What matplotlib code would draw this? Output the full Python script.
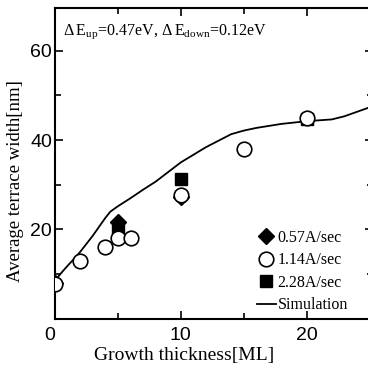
import numpy as np
import matplotlib
matplotlib.use('Agg')
import matplotlib.pyplot as plt

# data
x_057 = [0, 5, 10]
y_057 = [8.0, 21.6, 27.3]

x_114 = [0, 2, 4, 5, 6, 10, 15, 20]
y_114 = [7.9, 13.0, 16.1, 18.0, 18.2, 27.8, 38.1, 44.9]

x_228 = [5, 10, 20]
y_228 = [20.3, 31.3, 44.6]

x_sim = [0, 0.5, 1, 1.5, 2, 3, 4, 4.4, 5, 6, 7, 8, 10, 12, 14, 15, 16, 18, 20, 22, 23, 25]
y_sim = [8.6, 10.3, 11.9, 13.4, 15.0, 18.6, 22.6, 24.0, 25.2, 27.0, 28.9, 30.7, 35.0,
         38.4, 41.3, 42.1, 42.7, 43.6, 44.2, 44.6, 45.3, 47.3]

x_ticks = [0, 10, 20]
y_ticks = [20, 40, 60]

plt.rcParams['font.family'] = ['Liberation Serif', 'DejaVu Serif']
plt.rcParams['mathtext.fontset'] = 'custom'
plt.rcParams['mathtext.rm'] = 'Liberation Serif'

fig = plt.figure(figsize=(3.68, 3.72), dpi=100)
ax = fig.add_axes([0.1495, 0.1425, 0.865, 0.836])

ax.plot(x_sim, y_sim, color='black', lw=1.3, label='Simulation', zorder=2)
ax.plot(x_057, y_057, 'D', color='black', ms=8, label='0.57A/sec', zorder=3)
ax.plot(x_228, y_228, 's', color='black', ms=8.5, label='2.28A/sec', zorder=3)
ax.plot(x_114, y_114, 'o', mfc='white', mec='black', mew=1.2, ms=10.5,
        label='1.14A/sec', zorder=4)

ax.set_xlim(0, 25.3)
ax.set_ylim(0, 69.5)
ax.set_xticks(x_ticks)
ax.set_yticks(y_ticks)
ax.set_xticks([5, 15], minor=True)
ax.set_yticks([10, 30, 50], minor=True)
ax.tick_params(which='both', direction='in', top=True, right=True, width=1.2)
ax.tick_params(axis='x', which='major', length=6, pad=6)
ax.tick_params(axis='y', which='major', length=6, pad=2)
ax.tick_params(which='minor', length=4)
for lab in ax.get_xticklabels() + ax.get_yticklabels():
    lab.set_family(['Liberation Sans', 'DejaVu Sans'])
    lab.set_fontsize(14)
ax.get_xticklabels()[0].set_horizontalalignment('right')
for s in ax.spines.values():
    s.set_linewidth(1.5)

ax.set_xlabel('Growth thickness[ML]', fontsize=14)
ax.xaxis.set_label_coords(0.405, -0.09)
ax.set_ylabel('Average terrace width[nm]', fontsize=13.5)
ax.yaxis.set_label_coords(-0.097, 0.445)

ax.text(0.025, 0.955, r'$\Delta\,$E$_{\rm up}$=0.47eV, $\Delta\,$E$_{\rm down}$=0.12eV',
        transform=ax.transAxes, fontsize=11.5, va='top', ha='left')

h, l = ax.get_legend_handles_labels()
order = [1, 3, 2, 0]
ax.legend([h[i] for i in order], [l[i] for i in order], loc='lower right',
          bbox_to_anchor=(0.955, -0.017), frameon=False, fontsize=11.5,
          handlelength=1.2, handletextpad=0.1, labelspacing=0.4, borderpad=0.2)

fig.savefig('out.png', dpi=100)
